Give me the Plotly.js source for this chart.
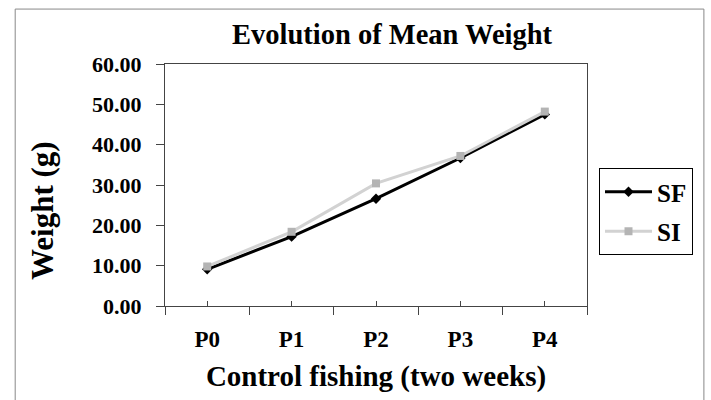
<!DOCTYPE html>
<html>
<head>
<meta charset="utf-8">
<script src="https://cdn.plot.ly/plotly-3.0.1.min.js"></script>
<style>html,body{margin:0;padding:0;background:#fff;}#chart{width:711px;height:400px;}</style>
</head>
<body>
<div id="chart"></div>
<script>
const categories = ["P0", "P1", "P2", "P3", "P4"];
const sfValues = [9.1, 17.2, 26.6, 36.7, 47.5];
const siValues = [9.8, 18.4, 30.4, 37.2, 48.2];
const seriesNames = ["SF", "SI"];

const FONT = "Liberation Serif, Times New Roman, serif";

const traces = [
  {
    x: categories, y: sfValues, name: "<b>" + seriesNames[0] + "</b>", legendgroup: "a",
    type: "scatter", mode: "lines+markers",
    line: {color: "#000000", width: 3},
    marker: {symbol: "diamond", size: 8, color: "#000000"}
  },
  {
    x: categories, y: siValues, name: "<b>" + seriesNames[1] + "</b>", legendgroup: "b",
    type: "scatter", mode: "lines+markers",
    line: {color: "#d2d2d2", width: 3},
    marker: {symbol: "square", size: 8, color: "#b4b4b4"}
  },
  {
    x: categories, y: sfValues, xaxis: "x2", yaxis: "y", type: "scatter", mode: "none",
    showlegend: false, hoverinfo: "skip"
  }
];

const layout = {
  width: 711, height: 400,
  margin: {l: 165, r: 124, t: 64, b: 94},
  paper_bgcolor: "#ffffff", plot_bgcolor: "#ffffff",
  font: {family: FONT, color: "#000000"},
  title: {
    text: "<b>Evolution of Mean Weight</b>",
    font: {family: FONT, size: 28.5, color: "#000000"},
    xref: "paper", x: 0.538, xanchor: "center", y: 0.915, yanchor: "middle"
  },
  xaxis: {
    type: "category", range: [-0.5, 4.5],
    tickson: "boundaries", ticks: "outside", ticklen: 8, tickcolor: "#444",
    showline: true, linecolor: "#444", linewidth: 1, mirror: true,
    showgrid: false, zeroline: false, ticklabelstandoff: 12,
    tickfont: {family: FONT, size: 23, color: "#000", weight: "bold"},
    title: {text: "<b>Control fishing (two weeks)</b>", font: {family: FONT, size: 29, color: "#000"}, standoff: 15}
  },
  xaxis2: {
    type: "category", range: [-0.5, 4.5], overlaying: "x", anchor: "y",
    ticks: "inside", ticklen: 5, tickcolor: "#444", showticklabels: false,
    showgrid: false, zeroline: false, showline: false
  },
  yaxis: {
    range: [0, 60], dtick: 10, tickformat: ".2f",
    ticks: "outside", ticklen: 8, tickcolor: "#444",
    showline: true, linecolor: "#444", linewidth: 1, mirror: true,
    showgrid: false, zeroline: false, ticklabelstandoff: 10,
    tickfont: {family: FONT, size: 22, color: "#000", weight: "bold"}
  },
  annotations: [
    {text: "<b>Weight (g)</b>", textangle: -90, xref: "paper", yref: "paper",
     x: (42 - 165) / 422, y: (306 - 211) / 242, xanchor: "center", yanchor: "middle",
     showarrow: false, font: {family: FONT, size: 31, color: "#000"}}
  ],
  legend: {
    x: (599 - 165) / 422, xanchor: "left", y: (306 - 168) / 242, yanchor: "top",
    bordercolor: "#000", borderwidth: 1, bgcolor: "#fff",
    font: {family: FONT, size: 25, color: "#000"},
    traceorder: "grouped", tracegroupgap: 4, itemwidth: 47
  },
  shapes: [
    {type: "rect", xref: "paper", yref: "paper", x0: -0.355, x1: 1.277, y0: -0.4, y1: 1.227,
     line: {color: "#888", width: 1}, fillcolor: "rgba(0,0,0,0)", layer: "below"}
  ],
  showlegend: true
};

Plotly.newPlot("chart", traces, layout, {displayModeBar: false, staticPlot: true});
</script>
</body>
</html>
